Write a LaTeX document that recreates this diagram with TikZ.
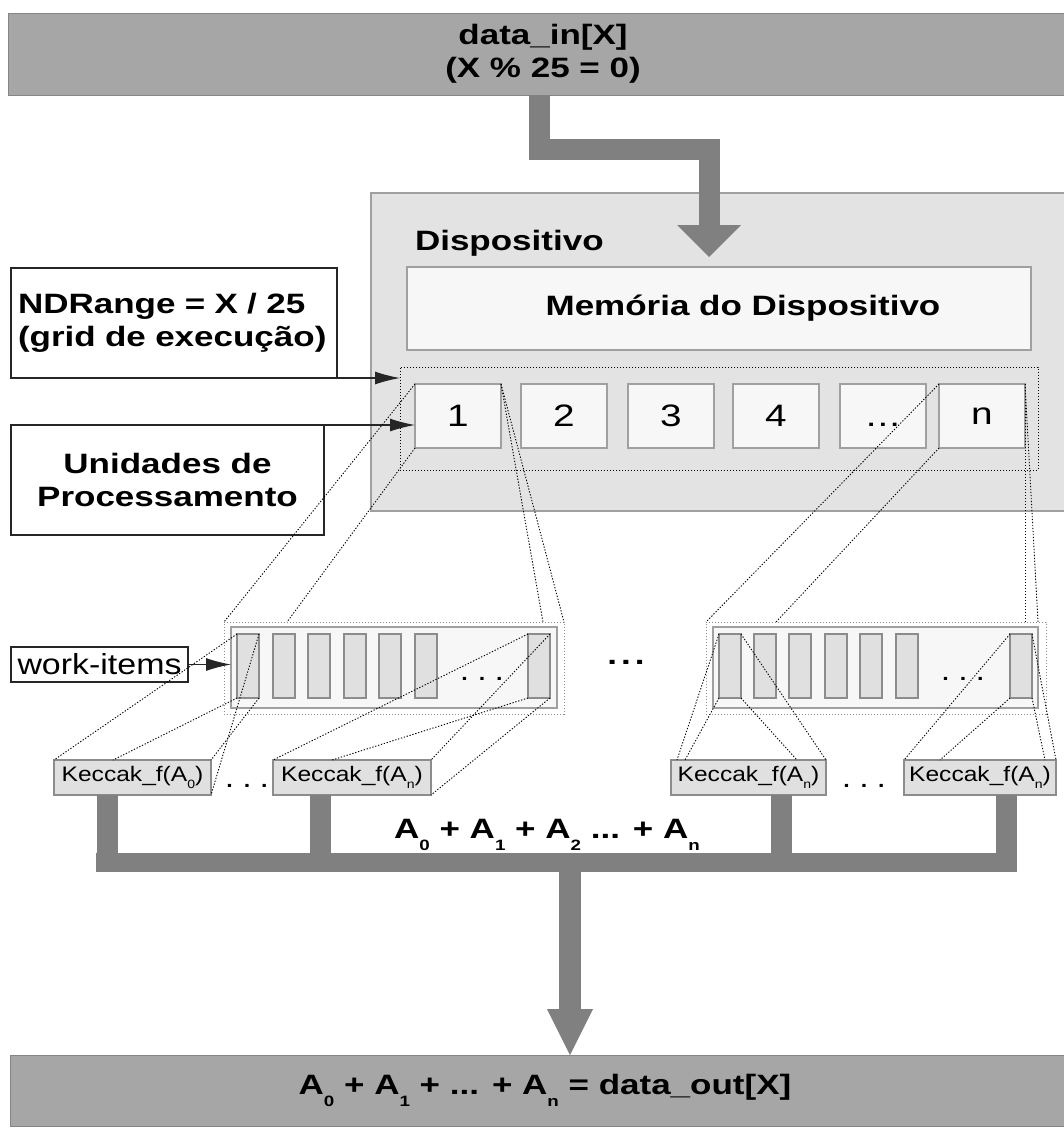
\documentclass[tikz,border=0pt]{standalone}
\usepackage{fontspec}
\setmainfont{Liberation Sans}[FakeStretch=1.25]
\newfontfamily\kfont{Liberation Sans}[FakeStretch=1.17]
\usetikzlibrary{arrows.meta,calc}
\definecolor{bandgray}{HTML}{A6A6A6}
\definecolor{arrgray}{HTML}{808080}
\definecolor{devgray}{HTML}{E3E3E3}
\definecolor{pale}{HTML}{F7F7F7}
\definecolor{edge}{HTML}{A0A0A0}
\definecolor{barfill}{HTML}{E0E0E0}
\newcommand\bigbf{\fontsize{28}{33}\selectfont\bfseries}
\newcommand\digitf{\fontsize{31}{36}\selectfont}
\newcommand\wif{\kfont\fontsize{29}{32}\selectfont}
\newcommand\kf{\kfont\fontsize{21}{25}\selectfont}
\newcommand\subA[1]{\raisebox{-12pt}{\fontsize{15}{15}\selectfont #1}}
\newcommand\subK[1]{\raisebox{-7pt}{\fontsize{12}{12}\selectfont #1}}
\newcommand\unitdots{\vphantom{1}.\kern1pt.\kern1pt.}
\begin{document}
\begin{tikzpicture}[x=1pt,y=-1pt,
  every node/.style={outer sep=0pt, inner sep=0pt},
  corner/.style={anchor=north west},
  band/.style={corner, fill=bandgray, draw=bandgray!80!black, line width=0.5pt},
  devbox/.style={corner, fill=devgray, draw=edge, line width=1.3pt},
  palebox/.style={corner, fill=pale, draw=edge, line width=1.3pt},
  whitebox/.style={corner, fill=white, draw=black!85, line width=1.2pt},
  dotbox/.style={corner, draw=black, line width=1pt, dash pattern=on 1.3pt off 1.7pt},
  graydotbox/.style={corner, draw=black!45, line width=0.9pt, dash pattern=on 1.3pt off 1.7pt},
  itembar/.style={corner, fill=barfill, draw=black!45, line width=1.2pt, minimum width=22pt, minimum height=64pt},
  unit/.style={palebox, minimum width=86pt, minimum height=64pt, font=\digitf},
  kbox/.style={corner, fill=barfill, draw=black!45, line width=1.2pt, minimum height=35pt, font=\kf},
  proj/.style={draw=black, line width=0.9pt, dash pattern=on 1.3pt off 1.7pt},
  callout/.style={draw=black!85, line width=1.2pt, -{Latex[length=25pt,width=13pt]}},
  pipe/.style={draw=arrgray, line width=21pt},
]
\useasboundingbox (0,0) rectangle (1064,1133);

% input band
\node[band, minimum width=1070pt, minimum height=82pt, align=center, font=\bigbf] (din) at (8,13)
  {data\_in[X]\\(X \% 25 = 0)};

% device
\node[devbox, minimum width=700pt, minimum height=318pt] (dev) at (371,193) {};
\node[anchor=base west, font=\bigbf] (devlbl) at (415,250) {Dispositivo};
\node[palebox, minimum width=624pt, minimum height=83pt, font=\bigbf] (mem) at (407,267)
  {\hspace*{48pt}Memória do Dispositivo};
\node[dotbox, minimum width=638pt, minimum height=103pt] (grid) at (400,367) {};
\node[unit] (u1) at (415,384) {1};
\node[unit] (u2) at (521,384) {2};
\node[unit] (u3) at (628,384) {3};
\node[unit] (u4) at (733,384) {4};
\node[unit] (u5) at (840,384) {\unitdots};
\node[unit] (u6) at (939,384) {n};

% input arrow
\coordinate (bendA) at (539,149);
\coordinate (bendB) at (709,149);
\coordinate (inTip) at (709,257);
\draw[pipe, line join=miter, -{Triangle[width=64pt,length=32pt,line width=0pt]}]
  (din.south -| bendA) -- (bendA) -- (bendB) -- (inTip);

% callouts
\node[whitebox, minimum width=326pt, minimum height=110pt, text width=312pt, align=left, font=\bigbf] (ndr) at (11,268)
  {NDRange = X / 25\\(grid de execução)};
\node[whitebox, minimum width=313pt, minimum height=110pt, align=center, font=\bigbf] (unid) at (11,425)
  {Unidades de\\Processamento};
\node[whitebox, minimum width=177pt, minimum height=35pt, font=\wif] (wi) at (11,647) {work-items};

% work-item groups
\node[graydotbox, minimum width=340pt, minimum height=92pt] (gL) at (224,622) {};
\node[palebox, minimum width=326pt, minimum height=81pt] (gLi) at (231,627) {};
\foreach \bx/\bn in {237/bL1,273/bL2,308/bL3,344/bL4,379/bL5,415/bL6,528/bL7}
  \node[itembar] (\bn) at (\bx,634) {};
\node[font=\wif, anchor=base] (dotsL) at (482,680) {.\hspace{8pt}.\hspace{8pt}.};

\node[graydotbox, minimum width=340pt, minimum height=92pt] (gR) at (706,622) {};
\node[palebox, minimum width=325pt, minimum height=81pt] (gRi) at (713,627) {};
\foreach \bx/\bn in {719/bR1,754/bR2,789/bR3,825/bR4,860/bR5,896/bR6,1010/bR7}
  \node[itembar] (\bn) at (\bx,634) {};
\node[font=\wif, anchor=base] (dotsR) at (963,680) {.\hspace{8pt}.\hspace{8pt}.};

\node[font=\bigbf, anchor=base] (dotsMid) at (626,664) {.\hspace{4pt}.\hspace{4pt}.};

% keccak boxes
\node[kbox, minimum width=157pt] (kA0) at (54,760) {Keccak\_f(A\subK{0})};
\node[kbox, minimum width=158pt] (kAn) at (273,760) {Keccak\_f(A\subK{n})};
\node[kbox, minimum width=155pt] (kR1) at (671,760) {Keccak\_f(A\subK{n})};
\node[kbox, minimum width=152pt] (kR2) at (904,760) {Keccak\_f(A\subK{n})};
\node[font=\wif, anchor=base] (kdotsL) at (247,787) {.\hspace{8pt}.\hspace{8pt}.};
\node[font=\wif, anchor=base] (kdotsR) at (864,787) {.\hspace{8pt}.\hspace{8pt}.};

% sum label
\node[font=\bigbf, anchor=base] (sumlbl) at (547,838)
  {A\subA{0} + A\subA{1} + A\subA{2} ... + A\subA{n}};

% output band
\node[band, minimum width=1070pt, minimum height=71pt, font=\bigbf] (dout) at (10,1055)
  {A\subA{0} + A\subA{1} + ... + A\subA{n} = data\_out[X]};

% callout arrows
\draw[callout] (ndr.south east) -- (ndr.south east -| grid.west);
\draw[callout] (unid.north east) -- (unid.north east -| u1.west);
\draw[callout] (wi.east) -- (wi.east -| gLi.west);

% projection lines: unit -> groups
\coordinate (gLa) at (287,622);
\coordinate (gLb) at (543,622);
\coordinate (gRa) at (776,622);
\coordinate (gRb) at (1025,622);
\coordinate (gRc) at (1038,622);
\draw[proj] (u1.north west) -- (gL.north west);
\draw[proj] (u1.south west) -- (gLa);
\draw[proj] (u1.north east) -- (gLb);
\draw[proj] (u1.north east) -- (gL.north east);
\draw[proj] (u6.north west) -- (gR.north west);
\draw[proj] (u6.south west) -- (gRa);
\draw[proj] (u6.north east) -- (gRb);
\draw[proj] (u6.north east) -- (gRc);

% projection lines: bars -> keccak
\coordinate (kA0a) at (113,760);
\coordinate (kAna) at (332,760);
\coordinate (kR1a) at (677,760);
\coordinate (kR1b) at (685,760);
\coordinate (kR1c) at (797,760);
\coordinate (kR2a) at (940,760);
\coordinate (kR2b) at (1045,760);
\draw[proj] (bL1.north west) -- (kA0.north west);
\draw[proj] (bL1.south west) -- (kA0a);
\draw[proj] (bL1.north east) -- (kA0.south east);
\draw[proj] (bL1.south east) -- (kA0.north east);
\draw[proj] (bL7.north west) -- (kAn.north west);
\draw[proj] (bL7.south west) -- (kAna);
\draw[proj] (bL7.north east) -- (kAn.north east);
\draw[proj] (bL7.south east) -- (kAn.south east);
\draw[proj] (bR1.north west) -- (kR1a);
\draw[proj] (bR1.south west) -- (kR1b);
\draw[proj] (bR1.north east) -- (kR1.north east);
\draw[proj] (bR1.south east) -- (kR1c);
\draw[proj] (bR7.north west) -- (kR2.north west);
\draw[proj] (bR7.south west) -- (kR2a);
\draw[proj] (bR7.north east) -- (kR2.north east);
\draw[proj] (bR7.south east) -- (kR2b);

% collector pipes
\coordinate (p1) at (107,872);
\coordinate (p2) at (320,872);
\coordinate (p3) at (781,872);
\coordinate (p4) at (1006,872);
\coordinate (hl) at (96,862.5);
\coordinate (hr) at (1017,862.5);
\draw[pipe] (p1 |- kA0.south) -- (p1);
\draw[pipe] (p2 |- kAn.south) -- (p2);
\draw[pipe] (p3 |- kR1.south) -- (p3);
\draw[pipe] (p4 |- kR2.south) -- (p4);
\draw[draw=arrgray, line width=19pt] (hl) -- (hr);
\coordinate (downStart) at (570,872);
\draw[pipe, line width=22pt, -{Triangle[width=46pt,length=46pt,line width=0pt]}]
  (downStart) -- (dout.north -| downStart);
\end{tikzpicture}
\end{document}
